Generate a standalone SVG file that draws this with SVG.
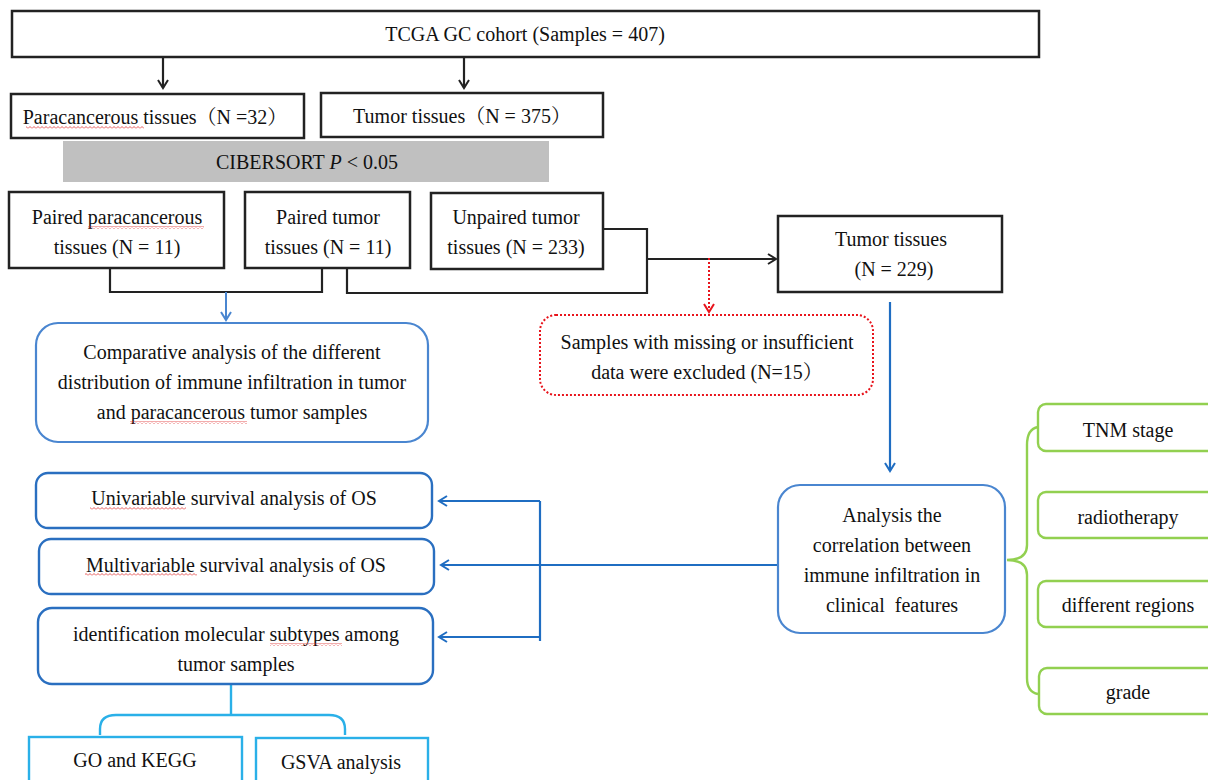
<svg xmlns="http://www.w3.org/2000/svg" width="1208" height="780" viewBox="0 0 1208 780">
<defs>
<style>
text{font-family:"Liberation Serif","Times New Roman","Noto Serif CJK SC","Noto Sans CJK SC",serif;font-size:20px;fill:#111;text-anchor:middle;dominant-baseline:central}
.bk{fill:#fff;stroke:#222;stroke-width:2.5}
.ln{fill:none;stroke:#222;stroke-width:2.2}
.bl{fill:#fff;stroke:#4a86d0;stroke-width:2.2}
.bd{fill:#fff;stroke:#2a6fc0;stroke-width:2.4}
.gr{fill:#fff;stroke:#92d050;stroke-width:2.4}
.cy{fill:#fff;stroke:#2ab0e8;stroke-width:2.4}
.sq{fill:url(#wave)}
</style>
<marker id="ab" viewBox="0 0 12 12" refX="10" refY="6" markerWidth="12" markerHeight="12" markerUnits="userSpaceOnUse" orient="auto"><path d="M2,1 L10,6 L2,11" fill="none" stroke="#222" stroke-width="2"/></marker>
<marker id="abl" viewBox="0 0 12 12" refX="10" refY="6" markerWidth="12" markerHeight="12" markerUnits="userSpaceOnUse" orient="auto"><path d="M2,1 L10,6 L2,11" fill="none" stroke="#4a86d0" stroke-width="2"/></marker>
<marker id="abd" viewBox="0 0 12 12" refX="10" refY="6" markerWidth="12" markerHeight="12" markerUnits="userSpaceOnUse" orient="auto"><path d="M2,1 L10,6 L2,11" fill="none" stroke="#1f6dc2" stroke-width="2"/></marker>
<marker id="ar" viewBox="0 0 12 12" refX="10" refY="6" markerWidth="12" markerHeight="12" markerUnits="userSpaceOnUse" orient="auto"><path d="M2,1 L10,6 L2,11" fill="none" stroke="#e8141c" stroke-width="2"/></marker>
<pattern id="wave" width="4" height="3" patternUnits="userSpaceOnUse"><path d="M0,2.5 L2,0.5 L4,2.5" fill="none" stroke="#e03030" stroke-width="0.8"/></pattern>
</defs>
<rect width="1208" height="780" fill="#fff"/>

<g id="connectors">
<line class="ln" x1="163" y1="57" x2="163" y2="88" marker-end="url(#ab)"/>
<line class="ln" x1="464" y1="57" x2="464" y2="88" marker-end="url(#ab)"/>
<polyline class="ln" points="110,268 110,292 322,292 322,268"/>
<line x1="226" y1="292" x2="226" y2="320" stroke="#4a86d0" stroke-width="2" marker-end="url(#abl)"/>
<polyline class="ln" points="603,229 647,229 647,293 347,293 347,268"/>
<line class="ln" x1="647" y1="259" x2="776" y2="259" marker-end="url(#ab)"/>
<line x1="709" y1="258" x2="709" y2="312" stroke="#e8141c" stroke-width="2" stroke-dasharray="2,2" marker-end="url(#ar)"/>
<line x1="890" y1="302" x2="890" y2="471" stroke="#1f6dc2" stroke-width="2.2" marker-end="url(#abd)"/>
<line x1="778" y1="565" x2="441" y2="565" stroke="#1f6dc2" stroke-width="2.2" marker-end="url(#abd)"/>
<polyline points="540,641 540,501" fill="none" stroke="#1f6dc2" stroke-width="2.2"/>
<line x1="540" y1="501" x2="439" y2="501" stroke="#1f6dc2" stroke-width="2.2" marker-end="url(#abd)"/>
<line x1="540" y1="637" x2="439" y2="637" stroke="#1f6dc2" stroke-width="2.2" marker-end="url(#abd)"/>
<line x1="231" y1="684" x2="231" y2="715" stroke="#2ab0e8" stroke-width="2.4"/>
<path d="M100,735 L100,729 Q100,715 116,715 L329,715 Q345,715 345,729 L345,735" fill="none" stroke="#2ab0e8" stroke-width="2.4"/>
<path d="M1038,427 Q1027,429 1027,445 L1027,545 Q1027,560 1007,560 Q1027,560 1027,575 L1027,678 Q1027,692 1038,694" fill="none" stroke="#92d050" stroke-width="2.4"/>
</g>

<g id="n-cohort"><rect class="bk" x="12" y="11" width="1027" height="46"/><text x="525" y="34">TCGA GC cohort (Samples = 407)</text></g>
<g id="n-para"><rect class="bk" x="11" y="94" width="293" height="44"/><text x="155" y="117">Paracancerous tissues（N =32）</text><rect class="sq" x="26" y="126" width="118" height="3"/></g>
<g id="n-tumor"><rect class="bk" x="321" y="93" width="282" height="44"/><text x="462" y="116">Tumor tissues（N = 375）</text></g>
<g id="n-cibersort"><rect x="63" y="141" width="486" height="41" fill="#c0c0c0"/><text x="307" y="162">CIBERSORT <tspan font-style="italic">P</tspan> &lt; 0.05</text></g>
<g id="n-pairedpara"><rect class="bk" x="9" y="192" width="215" height="76"/><text x="117" y="217">Paired paracancerous</text><text x="117" y="247">tissues (N = 11)</text><rect class="sq" x="88" y="226" width="116" height="3"/></g>
<g id="n-pairedtumor"><rect class="bk" x="245" y="192" width="165" height="76"/><text x="328" y="217">Paired tumor</text><text x="328" y="247">tissues (N = 11)</text></g>
<g id="n-unpaired"><rect class="bk" x="431" y="193" width="172" height="76"/><text x="516" y="217">Unpaired tumor</text><text x="516" y="247">tissues (N = 233)</text></g>
<g id="n-tumor229"><rect class="bk" x="778" y="216" width="224" height="76"/><text x="891" y="239">Tumor tissues</text><text x="894" y="269">(N = 229)</text></g>
<g id="n-excluded"><rect x="540" y="315" width="333" height="80" rx="16" fill="#fff" stroke="#e8141c" stroke-width="2" stroke-dasharray="2,2"/><text x="707" y="342">Samples with missing or insufficient</text><text x="707" y="372">data were excluded (N=15）</text></g>
<g id="n-comparative"><rect class="bl" x="36" y="323" width="392" height="119" rx="22"/><text x="232" y="352">Comparative analysis of the different</text><text x="232" y="382">distribution of immune infiltration in tumor</text><text x="232" y="412">and paracancerous tumor samples</text><rect class="sq" x="130" y="421" width="117" height="3"/></g>
<g id="n-uni"><rect class="bd" x="36" y="473" width="396" height="55" rx="12"/><text x="234" y="498">Univariable survival analysis of OS</text><rect class="sq" x="90" y="507" width="96" height="3"/></g>
<g id="n-multi"><rect class="bd" x="39" y="539" width="395" height="55" rx="12"/><text x="236" y="565">Multivariable survival analysis of OS</text><rect class="sq" x="85" y="573" width="112" height="3"/></g>
<g id="n-ident"><rect class="bd" x="38" y="608" width="395" height="76" rx="14"/><text x="236" y="634">identification molecular subtypes among</text><text x="236" y="664">tumor samples</text><rect class="sq" x="270" y="643" width="72" height="3"/></g>
<g id="n-go"><rect class="cy" x="29" y="737" width="213" height="60"/><text x="135" y="760">GO and KEGG</text></g>
<g id="n-gsva"><rect class="cy" x="256" y="738" width="172" height="60"/><text x="341" y="762">GSVA analysis</text></g>
<g id="n-analysis"><rect class="bl" x="778" y="485" width="227" height="148" rx="22"/><text x="892" y="515">Analysis the</text><text x="892" y="545">correlation between</text><text x="892" y="575">immune infiltration in</text><text x="892" y="605" xml:space="preserve">clinical  features</text></g>
<g id="n-tnm"><rect class="gr" x="1038" y="404" width="190" height="47" rx="8"/><text x="1128" y="430">TNM stage</text></g>
<g id="n-radio"><rect class="gr" x="1038" y="492" width="190" height="46" rx="8"/><text x="1128" y="517">radiotherapy</text></g>
<g id="n-regions"><rect class="gr" x="1038" y="581" width="190" height="46" rx="8"/><text x="1128" y="605">different regions</text></g>
<g id="n-grade"><rect class="gr" x="1039" y="668" width="190" height="46" rx="8"/><text x="1128" y="692">grade</text></g>
</svg>
